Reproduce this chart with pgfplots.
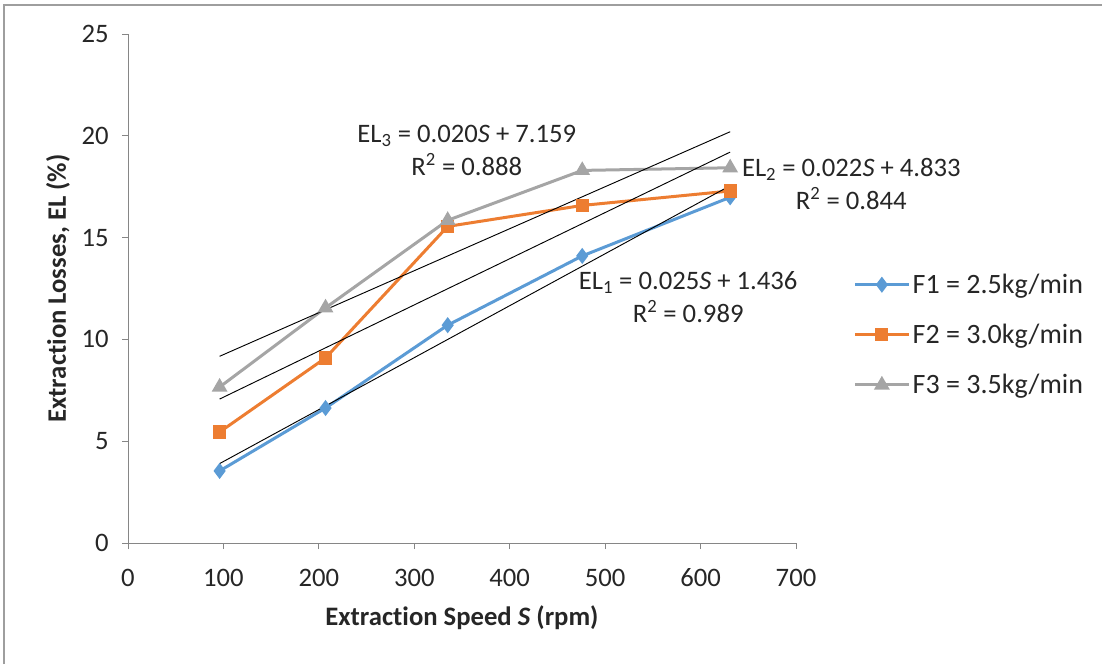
\documentclass[border=0pt]{standalone}
\usepackage{fontspec}
\setmainfont{Carlito}[Ligatures={NoCommon}]
\usepackage{pgfplots}
\pgfplotsset{compat=1.18}
\definecolor{cblue}{HTML}{5B9BD5}
\definecolor{corange}{HTML}{ED7D31}
\definecolor{cgray}{HTML}{A5A5A5}
\definecolor{axgray}{HTML}{868686}
\definecolor{txt}{HTML}{262626}

\begin{document}
\begin{tikzpicture}[x=0.75pt,y=-0.75pt]
\useasboundingbox (0,0) rectangle (1102,664);
\draw[axgray!80, line width=1.2pt] (4,664) -- (4,5) -- (1102,5);
\begin{axis}[
  at={(96pt,-407.25pt)}, anchor=south west,
  scale only axis, width=501pt, height=381.75pt,
  xmin=0, xmax=700, ymin=0, ymax=25,
  xtick={0,100,...,700}, ytick={0,5,...,25},
  axis lines*=left,
  axis line style={axgray, line width=0.75pt, -},
  tick align=outside, major tick length=4.5pt,
  tick style={axgray, line width=0.75pt},
  ticklabel style={font=\fontsize{20}{24}\selectfont, text=txt},
  xticklabel style={anchor=center, yshift=-21.75pt},
  yticklabel style={anchor=east, xshift=-6.5pt},
  /pgf/number format/assume math mode=true,
  xlabel={Extraction Speed \textit{S} (rpm)},
  ylabel={Extraction Losses, EL (\%)},
  label style={font=\fontsize{20}{24}\selectfont\bfseries, text=txt},
  xlabel style={at={(axis description cs:0.5,-0.147)}, anchor=center},
  ylabel style={at={(axis description cs:-0.1048,0.5)}, anchor=center},
  clip=false,
  legend style={at={(rel axis cs:1.08,0.409)}, anchor=west, draw=none,
    fill=none, font=\fontsize{21}{25}\selectfont, text=txt, row sep=17.5pt},
  legend cell align=left,
  legend image code/.code={\draw[mark repeat=2,mark phase=2]
    plot coordinates {(0pt,0pt)(20pt,0pt)(40pt,0pt)};},
]
\addplot[cblue, line width=2.25pt, mark=diamond*, mark size=4.2pt,
  mark options={solid}] coordinates {
  (96,3.54) (207,6.63) (335,10.7) (476,14.1) (631,16.98)};
\addlegendentry{F1 = 2.5kg/min}
\addplot[corange, line width=2.25pt, mark=square*, mark size=3.8pt]
  coordinates {
  (96,5.45) (207,9.09) (335,15.55) (476,16.58) (631,17.29)};
\addlegendentry{F2 = 3.0kg/min}
\addplot[cgray, line width=2.25pt, mark=triangle*, mark size=4.6pt]
  coordinates {
  (96,7.66) (207,11.55) (335,15.85) (476,18.3) (631,18.43)};
\addlegendentry{F3 = 3.5kg/min}
% linear trendlines
\addplot[black, line width=0.7pt, forget plot] coordinates {(96,3.9) (631,17.55)};
\addplot[black, line width=0.7pt, forget plot] coordinates {(96,7.07) (631,19.2)};
\addplot[black, line width=0.7pt, forget plot] coordinates {(96,9.17) (631,20.2)};
\node[align=center, font=\fontsize{20}{24.75}\selectfont, text=txt]
  at (axis cs:355,19.3) {EL\textsubscript{3} = 0.020\textit{S} + 7.159\\R\textsuperscript{2} = 0.888};
\node[align=center, font=\fontsize{20}{24.75}\selectfont, text=txt]
  at (axis cs:758,17.63) {EL\textsubscript{2} = 0.022\textit{S} + 4.833\\R\textsuperscript{2} = 0.844};
\node[align=center, font=\fontsize{20}{24.75}\selectfont, text=txt]
  at (axis cs:587,12.08) {EL\textsubscript{1} = 0.025\textit{S} + 1.436\\R\textsuperscript{2} = 0.989};
\end{axis}
\end{tikzpicture}
\end{document}
